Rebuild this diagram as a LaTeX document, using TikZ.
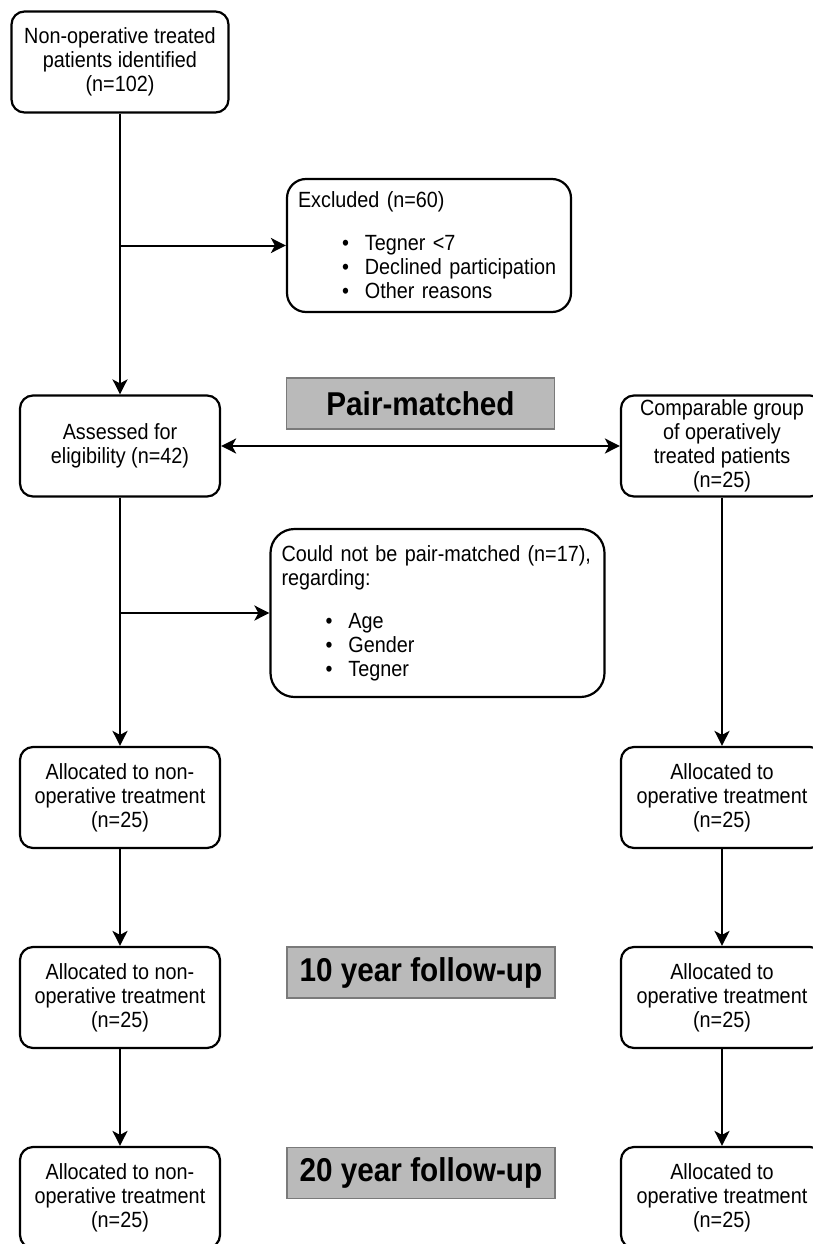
\documentclass[tikz,border=0pt]{standalone}
\usepackage{fontspec}
\setmainfont{Liberation Sans}[FakeStretch=0.9]
\usetikzlibrary{positioning, arrows.meta}

\definecolor{stagefill}{HTML}{BABABA}
\definecolor{stagedraw}{HTML}{7A7A7A}
\newcommand{\bul}[1]{\hspace*{44pt}\textbullet\hspace{16pt}#1}

\begin{document}
\begin{tikzpicture}[
    x=1pt, y=-1pt,
    >={Stealth[length=15pt, width=15pt, inset=4pt]},
    every node/.style={font=\fontsize{22}{24}\selectfont},
    box/.style={draw, line width=2.2pt, rounded corners=13pt, align=center, minimum width=200pt, minimum height=101pt, inner sep=0pt},
    listbox/.style={draw, line width=2.2pt, align=left, inner xsep=11pt, inner ysep=0pt},
    stage/.style={draw=stagedraw, fill=stagefill, line width=1.6pt, minimum width=268pt, minimum height=51pt, inner sep=0pt, font=\fontsize{33}{36}\selectfont\bfseries},
    flow/.style={->, line width=2pt}
]
    \useasboundingbox (0,0) rectangle (813,1244);

    % Non-operative branch
    \node[box, minimum width=217pt] (IDENT) at (120,62) {Non-operative treated\\patients identified\\(n=102)};
    \node[box, below of=IDENT, node distance=384pt] (ASSESS) {Assessed for\\eligibility (n=42)};
    \node[box, below of=ASSESS, node distance=351.5pt] (ALLOCN) {Allocated to non-\\operative treatment\\(n=25)};
    \node[box, below of=ALLOCN, node distance=200pt] (TENN) {Allocated to non-\\operative treatment\\(n=25)};
    \node[box, below of=TENN, node distance=200pt] (TWENTYN) {Allocated to non-\\operative treatment\\(n=25)};

    % Operative branch
    \node[box, minimum width=202pt, right of=ASSESS, node distance=602pt] (COMP) {Comparable group\\of operatively\\treated patients\\(n=25)};
    \node[box, minimum width=202pt, right of=ALLOCN, node distance=602pt] (ALLOCO) {Allocated to\\operative treatment\\(n=25)};
    \node[box, minimum width=202pt, right of=TENN, node distance=602pt] (TENO) {Allocated to\\operative treatment\\(n=25)};
    \node[box, minimum width=202pt, right of=TWENTYN, node distance=602pt] (TWENTYO) {Allocated to\\operative treatment\\(n=25)};

    % Exclusions
    \node[listbox, text width=262pt, minimum height=133pt, rounded corners=19pt] (EXCL) at (429,245.5)
        {Excluded (n=60)\\[19pt]\bul{Tegner <7}\\\bul{Declined participation}\\\bul{Other reasons}};
    \node[listbox, text width=312pt, minimum height=168pt, rounded corners=24pt] (COULD) at (437.5,613)
        {Could not be pair-matched (n=17),\\regarding:\\[19pt]\bul{Age}\\\bul{Gender}\\\bul{Tegner}};

    % Stage labels
    \node[stage] (PAIR) at (420.5,403.5) {Pair-matched};
    \node[stage] (TENY) at (421,972.5) {10 year follow-up};
    \node[stage] (TWENTYY) at (421,1173) {20 year follow-up};

    % Edges
    \coordinate (BR1) at (IDENT.south |- EXCL.west);
    \coordinate (BR2) at (ASSESS.south |- COULD.west);
    \draw[flow] (IDENT) -- (ASSESS);
    \draw[flow] (BR1) -- (EXCL.west);
    \draw[flow, <->] (ASSESS) -- (COMP);
    \draw[flow] (ASSESS) -- (ALLOCN);
    \draw[flow] (BR2) -- (COULD.west);
    \draw[flow] (COMP) -- (ALLOCO);
    \draw[flow] (ALLOCN) -- (TENN);
    \draw[flow] (ALLOCO) -- (TENO);
    \draw[flow] (TENN) -- (TWENTYN);
    \draw[flow] (TENO) -- (TWENTYO);

\end{tikzpicture}
\end{document}
